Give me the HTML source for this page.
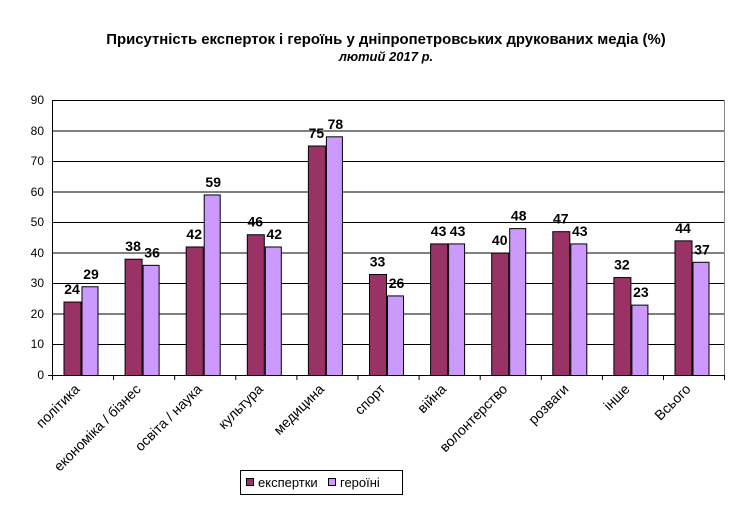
<!DOCTYPE html>
<html><head><meta charset="utf-8"><style>body{margin:0;background:#fff}</style></head><body>
<svg width="743" height="516" xmlns="http://www.w3.org/2000/svg" font-family="Liberation Sans, Arial, sans-serif">
<rect width="743" height="516" fill="#fff"/>
<text x="386" y="44" text-anchor="middle" font-size="14.9" font-weight="bold">Присутність експерток і героїнь у дніпропетровських друкованих медіа (%)</text>
<text x="386" y="61" text-anchor="middle" font-size="13" font-weight="bold" font-style="italic">лютий 2017 р.</text>
<g stroke="#000" stroke-width="1">
<line x1="52" y1="100.5" x2="724" y2="100.5"/><line x1="52" y1="131" x2="724" y2="131"/><line x1="52" y1="161.5" x2="724" y2="161.5"/><line x1="52" y1="192" x2="724" y2="192"/><line x1="52" y1="222.5" x2="724" y2="222.5"/><line x1="52" y1="253" x2="724" y2="253"/><line x1="52" y1="283.5" x2="724" y2="283.5"/><line x1="52" y1="314" x2="724" y2="314"/><line x1="52" y1="344.5" x2="724" y2="344.5"/>
</g>
<line x1="724.5" y1="100" x2="724.5" y2="376" stroke="#888"/>
<g font-size="12" text-anchor="end">
<text x="44" y="104">90</text><text x="44" y="135">80</text><text x="44" y="165">70</text><text x="44" y="196">60</text><text x="44" y="226">50</text><text x="44" y="257">40</text><text x="44" y="287">30</text><text x="44" y="318">20</text><text x="44" y="348">10</text><text x="44" y="379">0</text>
</g>
<g id="bars" stroke="#000" stroke-width="1"></g>
<g id="labs" font-size="14" font-weight="bold" text-anchor="middle"></g>
<g id="cats" font-size="14"></g>
<line x1="52.5" y1="100" x2="52.5" y2="380" stroke="#000"/>
<line x1="48" y1="375.5" x2="724" y2="375.5" stroke="#000"/>
<g id="ticks" stroke="#000"></g>
<rect x="240.5" y="470.5" width="162" height="24" fill="#fff" stroke="#000"/>
<rect x="246.5" y="478.5" width="7" height="7" fill="#993366" stroke="#000"/>
<text x="258" y="487" font-size="13">експертки</text>
<rect x="328.5" y="478.5" width="7" height="7" fill="#cc99ff" stroke="#000"/>
<text x="340" y="487" font-size="13">героїні</text>
</svg>
<script>
const a=[24,38,42,46,75,33,43,40,47,32,44],b=[29,36,59,42,78,26,43,48,43,23,37];
const n=["політика","економіка / бізнес","освіта / наука","культура","медицина","спорт","війна","волонтерство","розваги","інше","Всього"];
const s=3.06,base=375.5,w=61.1;let B="",L="",C="",T="";
for(let i=0;i<11;i++){const x=52+i*w+12;
B+=`<rect x="${x}" y="${base-a[i]*s}" width="17" height="${a[i]*s}" fill="#993366"/>`;
B+=`<rect x="${x+18}" y="${base-b[i]*s}" width="16" height="${b[i]*s}" fill="#cc99ff"/>`;
L+=`<text x="${x+8}" y="${base-a[i]*s-8}">${a[i]}</text><text x="${x+27}" y="${base-b[i]*s-8}">${b[i]}</text>`;
const cx=52+i*w+w/2-2;C+=`<text transform="translate(${cx},390) rotate(-45)" text-anchor="end">${n[i]}</text>`;
T+=`<line x1="${52.5+i*w}" y1="375" x2="${52.5+i*w}" y2="380"/>`;}
T+=`<line x1="724.5" y1="375" x2="724.5" y2="380"/>`;
document.getElementById("bars").innerHTML=B;document.getElementById("labs").innerHTML=L;document.getElementById("cats").innerHTML=C;document.getElementById("ticks").innerHTML=T;
</script>
</body></html>
